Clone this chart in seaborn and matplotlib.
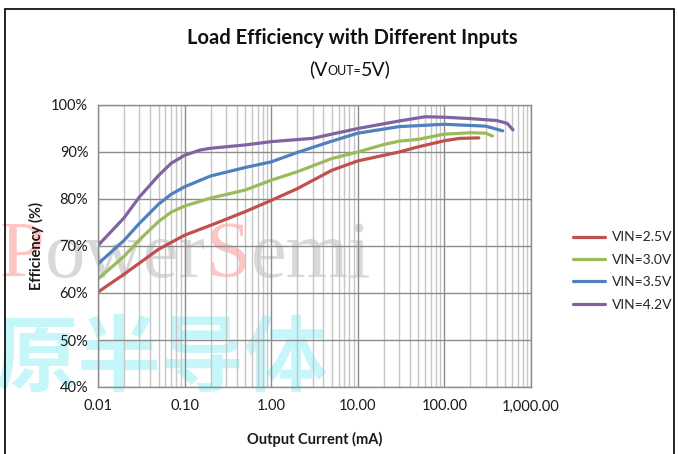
import numpy as np
import pandas as pd
import seaborn as sns
import matplotlib.pyplot as plt
from matplotlib.ticker import FuncFormatter, LogLocator, FixedLocator
from matplotlib.offsetbox import TextArea, HPacker, AnchoredOffsetbox
from matplotlib.patches import Rectangle

# Efficiency curves (output current in mA, efficiency in %)
i_25 = [0.01, 0.02, 0.05, 0.1, 0.2, 0.5, 1, 2, 5, 10, 20, 30, 50, 100, 150, 250]
e_25 = [60.2, 64.0, 69.3, 72.3, 74.4, 77.3, 79.7, 82.2, 86.1, 88.1, 89.3, 90.0, 91.1, 92.4, 92.9, 93.0]

i_30 = [0.01, 0.02, 0.03, 0.05, 0.07, 0.1, 0.2, 0.5, 1, 2, 5, 10, 20, 30, 50, 100, 200, 300, 360]
e_30 = [63.0, 67.8, 71.3, 75.2, 77.2, 78.5, 80.2, 81.9, 84.0, 85.8, 88.6, 90.0, 91.6, 92.3, 92.7, 93.8, 94.1, 94.0, 93.4]

i_35 = [0.01, 0.02, 0.03, 0.05, 0.07, 0.1, 0.2, 0.5, 1, 2, 5, 10, 30, 100, 300, 470]
e_35 = [66.2, 71.2, 74.8, 78.9, 81.0, 82.6, 84.9, 86.7, 87.9, 89.9, 92.3, 94.0, 95.4, 95.9, 95.5, 94.5]

i_42 = [0.01, 0.02, 0.03, 0.05, 0.07, 0.1, 0.15, 0.2, 0.5, 1, 3, 5, 10, 30, 60, 100, 200, 400, 530, 620]
e_42 = [70.1, 76.0, 80.4, 85.0, 87.6, 89.3, 90.4, 90.8, 91.5, 92.2, 92.9, 93.8, 95.0, 96.6, 97.5, 97.4, 97.1, 96.7, 96.1, 94.7]

labels = ["VIN=2.5V", "VIN=3.0V", "VIN=3.5V", "VIN=4.2V"]
colors = ["#c0504d", "#9bbb59", "#4f81bd", "#8064a2"]

frames = []
for lab, x, y in zip(labels, [i_25, i_30, i_35, i_42], [e_25, e_30, e_35, e_42]):
    frames.append(pd.DataFrame({"current": x, "eff": y, "vin": lab}))
df = pd.concat(frames, ignore_index=True)

sns.set_theme(style="white")
plt.rcParams["font.family"] = ["Lato", "DejaVu Sans"]

fig = plt.figure(figsize=(6.78, 4.54), dpi=100)
ax = fig.add_axes([98 / 678, 67 / 454, 433 / 678, 282 / 454])
ax.set_facecolor("none")

# watermark behind the plot
wm = HPacker(children=[
    TextArea("P", textprops=dict(color="#ffc4c4", fontsize=58, family="Liberation Serif")),
    TextArea("ower", textprops=dict(color="#d9d9d9", fontsize=58, family="Liberation Serif")),
    TextArea("S", textprops=dict(color="#ffc4c4", fontsize=58, family="Liberation Serif")),
    TextArea("emi", textprops=dict(color="#d9d9d9", fontsize=58, family="Liberation Serif")),
], align="baseline", pad=0, sep=0)
wm_box = AnchoredOffsetbox(loc="center left", child=wm, pad=0, frameon=False,
                           bbox_to_anchor=(0.0, 197 / 454), bbox_transform=fig.transFigure,
                           borderpad=0)
wm_box.set_zorder(-2)
fig.add_artist(wm_box)
fig.text(-0.008, 94 / 454, "原半导体", color="#c4f6fa", fontsize=60, fontweight="bold",
         family=["Noto Sans CJK SC", "DejaVu Sans"], va="center", ha="left", zorder=-2)

sns.lineplot(data=df, x="current", y="eff", hue="vin", palette=colors,
             estimator=None, sort=False, linewidth=2.3, ax=ax, legend=True)

ax.set_xscale("log")
ax.set_xlim(0.01, 1000)
ax.set_ylim(40, 100)
ax.xaxis.set_major_locator(FixedLocator([0.01, 0.1, 1, 10, 100, 1000]))
ax.xaxis.set_minor_locator(LogLocator(base=10, subs=np.arange(2, 10)))
ax.xaxis.set_major_formatter(FuncFormatter(lambda v, p: f"{v:,.2f}"))
ax.xaxis.set_minor_formatter(FuncFormatter(lambda v, p: ""))
ax.set_yticks(np.arange(40, 101, 10))
ax.yaxis.set_major_formatter(FuncFormatter(lambda v, p: f"{v:.0f}%"))

ax.grid(which="minor", axis="x", color="#c6c6c6", linewidth=1.0)
ax.grid(which="major", axis="both", color="#8c8c8c", linewidth=1.0)
ax.set_axisbelow(True)
for s in ax.spines.values():
    s.set_color("#8c8c8c")
    s.set_linewidth(1.0)
ax.tick_params(axis="both", which="both", length=0, labelsize=10.5, colors="#1a1a1a")
ax.tick_params(axis="x", pad=9)
ax.tick_params(axis="y", pad=7)

ax.set_xlabel("Output Current (mA)", fontsize=10.5, fontweight="bold", color="#1a1a1a")
ax.set_ylabel("Efficiency (%)", fontsize=10.5, fontweight="bold", color="#1a1a1a")
ax.xaxis.set_label_coords(0.5, -0.16)
ax.yaxis.set_label_coords(-0.125, 0.5)

handles, labs = ax.get_legend_handles_labels()
ax.legend(handles, labs, loc="center left", bbox_to_anchor=(566 / 678, 183 / 454),
          bbox_transform=fig.transFigure, frameon=False, fontsize=10,
          handlelength=2.3, handletextpad=0.5, labelspacing=0.75, borderpad=0)

fig.text(352 / 678, 1 - 38 / 454, "Load Efficiency with Different Inputs",
         ha="center", va="center", fontsize=14.5, fontweight="bold", color="#111111")
sub = HPacker(children=[
    TextArea("(V", textprops=dict(fontsize=14, color="#111111")),
    TextArea("OUT=", textprops=dict(fontsize=9, color="#111111")),
    TextArea("5V)", textprops=dict(fontsize=14, color="#111111")),
], align="baseline", pad=0, sep=0)
sub_box = AnchoredOffsetbox(loc="center", child=sub, pad=0, frameon=False,
                            bbox_to_anchor=(350 / 678, 1 - 69 / 454),
                            bbox_transform=fig.transFigure, borderpad=0)
fig.add_artist(sub_box)

# chart area border
fig.add_artist(Rectangle((5 / 678, -0.05), 669 / 678, (445 / 454) + 0.05,
                         transform=fig.transFigure, fill=False,
                         edgecolor="#111111", linewidth=1.3))

fig.savefig("out.png", dpi=100)
